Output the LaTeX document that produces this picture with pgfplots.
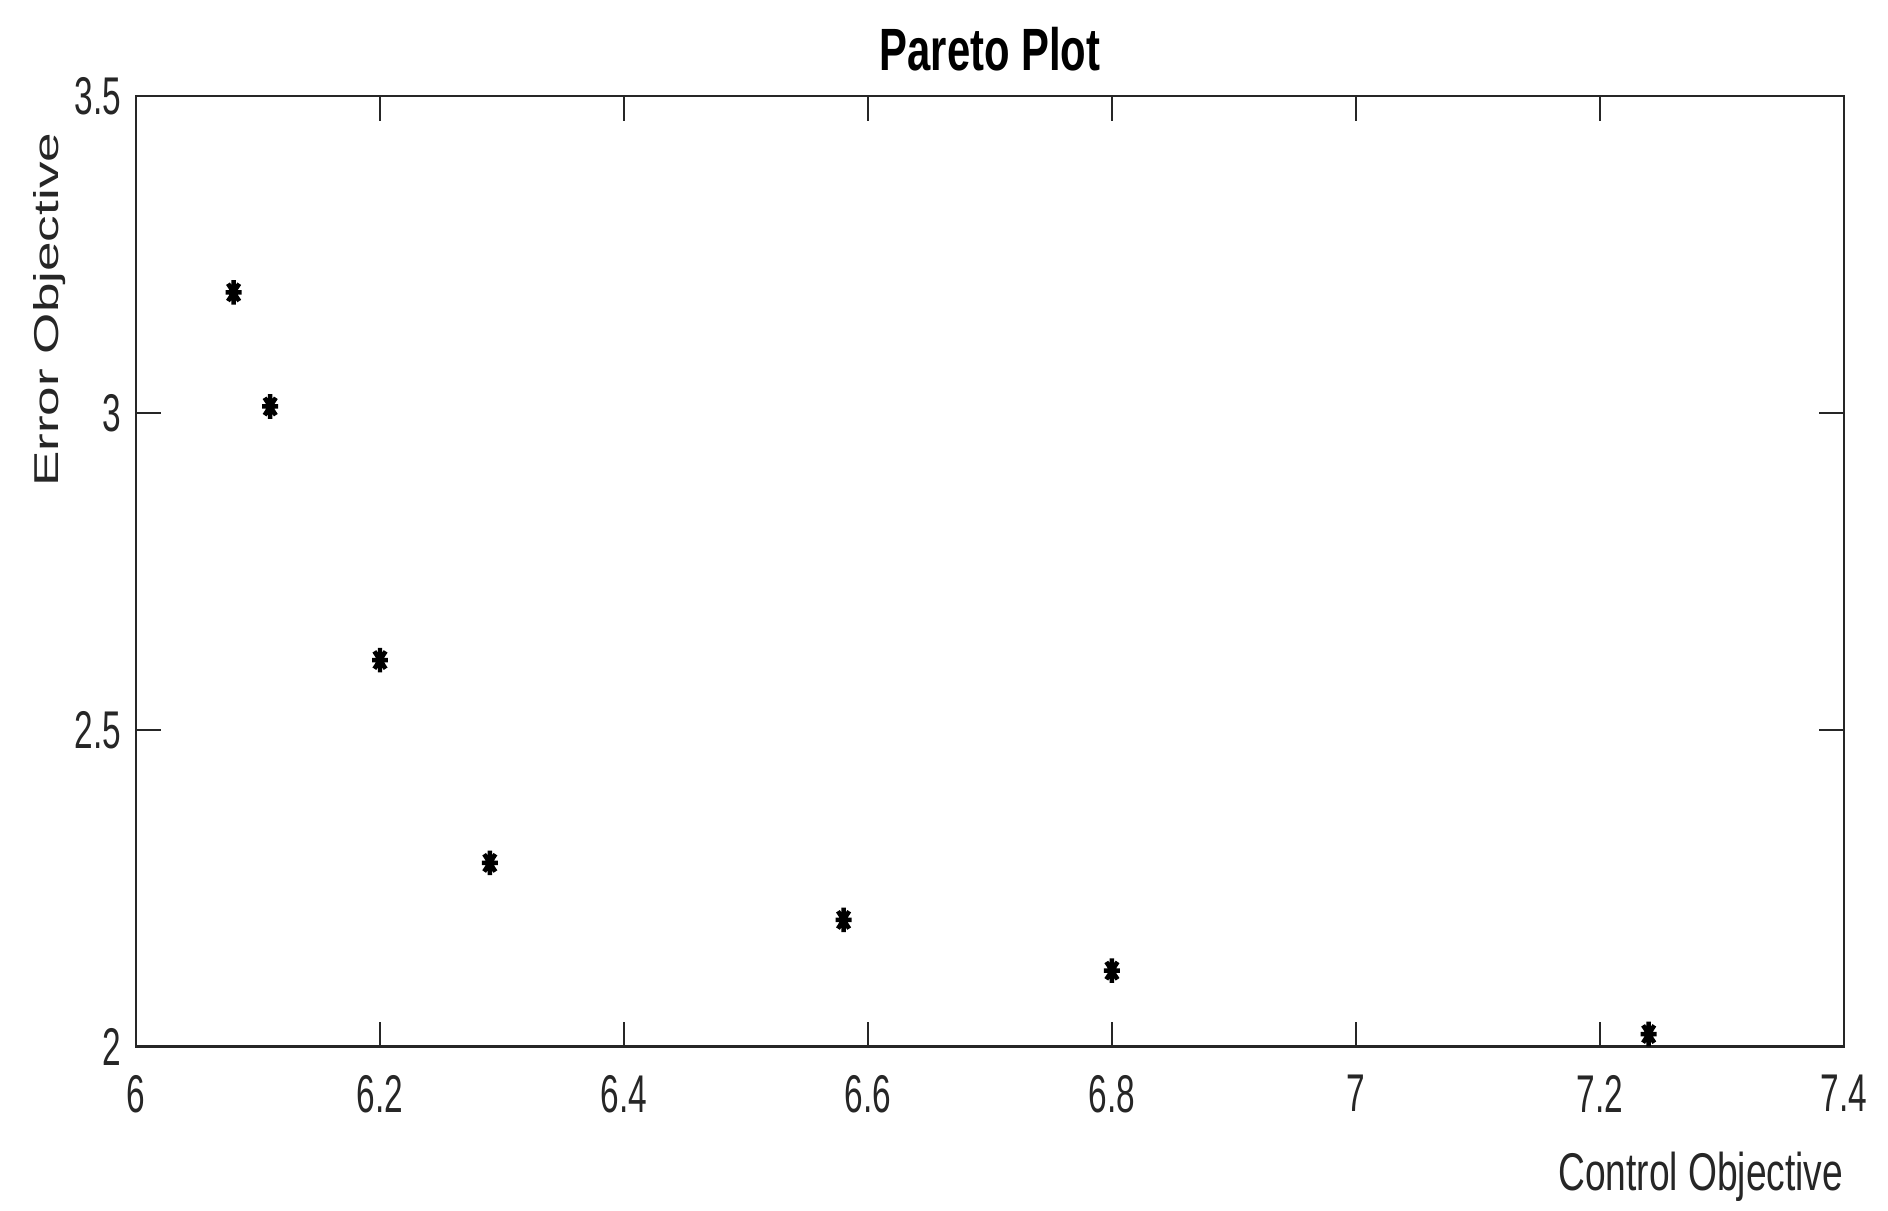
\documentclass[border=0pt]{standalone}
\usepackage{pgfplots}
\pgfplotsset{compat=1.18}
\usepackage{fontspec}
\setmainfont{Liberation Sans}
\newfontfamily\narrow[FakeStretch=0.63]{Liberation Sans}
\newfontfamily\narrowb[FakeStretch=0.7]{Liberation Sans}
\definecolor{axgray}{HTML}{262626}

% MATLAB style '*' marker: plus and cross together, squeezed sideways
\pgfdeclareplotmark{mstar}{%
  \pgfpathmoveto{\pgfqpoint{0pt}{\pgfplotmarksize}}%
  \pgfpathlineto{\pgfqpoint{0pt}{-\pgfplotmarksize}}%
  \pgfpathmoveto{\pgfqpoint{0.65\pgfplotmarksize}{0pt}}%
  \pgfpathlineto{\pgfqpoint{-0.65\pgfplotmarksize}{0pt}}%
  \pgfpathmoveto{\pgfqpoint{0.46\pgfplotmarksize}{0.707\pgfplotmarksize}}%
  \pgfpathlineto{\pgfqpoint{-0.46\pgfplotmarksize}{-0.707\pgfplotmarksize}}%
  \pgfpathmoveto{\pgfqpoint{-0.46\pgfplotmarksize}{0.707\pgfplotmarksize}}%
  \pgfpathlineto{\pgfqpoint{0.46\pgfplotmarksize}{-0.707\pgfplotmarksize}}%
  \pgfusepathqstroke
}

\begin{document}
\begin{tikzpicture}
\begin{axis}[
    width=514.8pt, height=286.6pt,
    scale only axis,
    xmin=6, xmax=7.4, ymin=2, ymax=3.5,
    xtick={6,6.2,...,7.4},
    ytick={2,2.5,3,3.5},
    xticklabels={6,6.2,6.4,6.6,6.8,7,7.2,7.4},
    yticklabels={2,2.5,3,3.5},
    tick align=inside,
    major tick length=7.5pt,
    axis line style={axgray, line width=0.8pt},
    every tick/.style={axgray, line width=0.6pt},
    tick label style={font=\narrow\fontsize{16}{18}\selectfont, text=axgray},
    yticklabel style={xshift=-1pt},
    xticklabel style={yshift=-5pt},
    title={\narrowb\fontsize{18}{20}\selectfont\bfseries Pareto Plot},
    title style={at={(0.5,1)}, anchor=base, yshift=1.8pt, inner sep=0pt},
    xlabel={\narrowb\fontsize{16}{18}\selectfont Control Objective},
    xlabel style={at={(rel axis cs:1,0)}, anchor=base east, yshift=-43.2pt, inner sep=0pt, text=axgray},
    ylabel={\scalebox{1}[0.65]{\fontsize{16}{18}\selectfont Error Objective}},
    ylabel style={at={(rel axis cs:0,0.775)}, anchor=center, yshift=26.2pt, inner sep=0pt, text=axgray},
    clip=false,
]
\addplot[only marks, mark=mstar, mark size=3.7pt, mark options={line width=1.35pt, black}]
  coordinates {
    (6.08,3.19) (6.11,3.01) (6.20,2.61) (6.29,2.29)
    (6.58,2.20) (6.80,2.12) (7.24,2.02)
  };
\coordinate (bl) at (rel axis cs:0,0);
\coordinate (tr) at (rel axis cs:1,1);
\end{axis}
\path ([xshift=-41pt, yshift=-49.4pt]bl) rectangle ([xshift=13.3pt, yshift=28.9pt]tr);
\end{tikzpicture}
\end{document}
